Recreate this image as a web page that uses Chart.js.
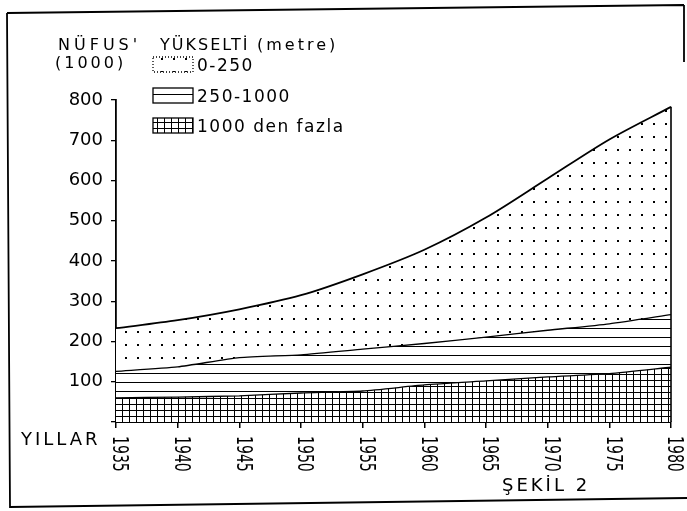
<!DOCTYPE html>
<html>
<head>
<meta charset="utf-8">
<script src="https://cdn.jsdelivr.net/npm/chart.js@4/dist/chart.umd.min.js"></script>
<style>
  html, body { margin: 0; padding: 0; background: #fff; }
  canvas { display: block; }
</style>
</head>
<body>
<canvas id="chart" width="687" height="511"></canvas>
<script>
  // years on the x axis
  const years = ["1935", "1940", "1945", "1950", "1955", "1960", "1965", "1970", "1975", "1980"];

  // population per altitude band, thousands (stacked: bottom to top)
  const over1000 = [60, 62, 65, 72, 77, 92, 102, 112, 120, 136];
  const from250to1000 = [66, 75, 95, 95, 104, 103, 109, 116, 124, 131];
  const from0to250 = [107, 116, 120, 148, 186, 233, 297, 377, 458, 516];

  // y axis ticks
  const yTickValues = [0, 100, 200, 300, 400, 500, 600, 700, 800];

  const legendLabels = ["0-250", "250-1000", "1000 den fazla"];

  const FONT = "DejaVu Sans";

  function makePattern(w, h, draw) {
    const c = document.createElement("canvas");
    c.width = w;
    c.height = h;
    const g = c.getContext("2d");
    g.fillStyle = "#fff";
    g.fillRect(0, 0, w, h);
    g.fillStyle = "#000";
    draw(g);
    return c.getContext("2d").createPattern(c, "repeat");
  }

  const dots = makePattern(12, 13, g => g.fillRect(5, 6, 2, 2));
  const hlines = makePattern(10, 9, g => g.fillRect(0, 4, 10, 1));
  const grid = makePattern(7, 6, g => {
    g.fillRect(3, 0, 1, 6);
    g.fillRect(0, 2, 7, 1);
  });

  function spacedText(ctx, text, x, y, font, spacing) {
    ctx.font = font;
    ctx.letterSpacing = spacing + "px";
    ctx.fillText(text, x, y);
    ctx.letterSpacing = "0px";
  }

  const decor = {
    id: "decor",
    beforeDraw(chart) {
      const ctx = chart.ctx;
      ctx.save();
      ctx.fillStyle = "#fff";
      ctx.fillRect(0, 0, chart.width, chart.height);
      ctx.restore();
    },
    afterDraw(chart) {
      const { ctx, scales: { x, y } } = chart;
      ctx.save();
      ctx.fillStyle = "#000";
      ctx.strokeStyle = "#000";

      // right edge of the stacked area
      const topPt = chart.getDatasetMeta(2).data[years.length - 1];
      ctx.lineWidth = 1.6;
      ctx.beginPath();
      ctx.moveTo(topPt.x, y.getPixelForValue(0));
      ctx.lineTo(topPt.x, topPt.y);
      ctx.stroke();

      // rotated year labels
      years.forEach((yr, i) => {
        const px = x.getPixelForValue(i);
        ctx.save();
        ctx.translate(px + 3, 436);
        ctx.rotate(Math.PI / 2);
        ctx.scale(0.64, 1);
        ctx.font = "22px " + FONT;
        ctx.textAlign = "left";
        ctx.textBaseline = "middle";
        ctx.fillText(yr, 0, 0);
        ctx.restore();
      });

      // titles
      ctx.textAlign = "left";
      ctx.textBaseline = "alphabetic";
      spacedText(ctx, "NÜFUS'", 58, 50, "16px " + FONT, 4);
      spacedText(ctx, "YÜKSELTİ", 160, 50, "16px " + FONT, 2);
      spacedText(ctx, "(metre)", 257, 50, "16px " + FONT, 3);
      spacedText(ctx, "(1000)", 55, 68, "16px " + FONT, 3);
      spacedText(ctx, "YILLAR", 21, 445, "18px " + FONT, 3);
      spacedText(ctx, "ŞEKİL 2", 502, 491, "18px " + FONT, 3);

      // legend
      const boxes = [
        { fill: dots, top: 57, dash: [1, 2] },
        { fill: hlines, top: 88, dash: [] },
        { fill: grid, top: 118, dash: [] }
      ];
      boxes.forEach((b, i) => {
        ctx.fillStyle = b.fill;
        ctx.fillRect(153, b.top, 40, 15);
        ctx.setLineDash(b.dash);
        ctx.lineWidth = 1.3;
        ctx.strokeRect(153, b.top, 40, 15);
        ctx.setLineDash([]);
        ctx.fillStyle = "#000";
        spacedText(ctx, legendLabels[i], 197, b.top + 14, "17px " + FONT, 1.5);
      });

      // frame
      ctx.lineWidth = 1.8;
      ctx.beginPath();
      ctx.moveTo(7, 13);
      ctx.lineTo(684, 5);
      ctx.moveTo(7, 13);
      ctx.lineTo(10, 507);
      ctx.lineTo(687, 498);
      ctx.moveTo(684, 5);
      ctx.lineTo(684, 62);
      ctx.stroke();

      ctx.restore();
    }
  };

  new Chart(document.getElementById("chart"), {
    type: "line",
    data: {
      labels: years,
      datasets: [
        {
          label: legendLabels[2],
          data: over1000,
          backgroundColor: grid,
          borderColor: "#000",
          borderWidth: 1.3,
          fill: "origin",
          tension: 0.2,
          pointRadius: 0
        },
        {
          label: legendLabels[1],
          data: from250to1000,
          backgroundColor: hlines,
          borderColor: "#000",
          borderWidth: 1.3,
          fill: "-1",
          tension: 0.2,
          pointRadius: 0
        },
        {
          label: legendLabels[0],
          data: from0to250,
          backgroundColor: dots,
          borderColor: "#000",
          borderWidth: 1.8,
          fill: "-1",
          tension: 0.3,
          pointRadius: 0
        }
      ]
    },
    options: {
      responsive: false,
      animation: false,
      devicePixelRatio: 1,
      layout: { padding: { left: 0, right: 16, top: 100, bottom: 83 } },
      plugins: {
        legend: { display: false },
        tooltip: { enabled: false }
      },
      scales: {
        x: {
          offset: false,
          grid: { drawOnChartArea: false, drawTicks: true, tickLength: 6, color: "#000", lineWidth: 1.5 },
          border: { display: true, color: "#000", width: 2 },
          ticks: { display: false },
          afterFit: s => { s.height = 6; }
        },
        y: {
          stacked: true,
          min: 0,
          max: 800,
          grid: { drawOnChartArea: false, drawTicks: true, tickLength: 5, color: "#000", lineWidth: 1.3 },
          border: { display: true, color: "#000", width: 1.8 },
          afterBuildTicks: s => { s.ticks = yTickValues.map(v => ({ value: v })); },
          afterFit: s => { s.width = 116; },
          ticks: {
            color: "#000",
            padding: 8,
            font: { family: FONT, size: 18 },
            callback: v => (v === 0 ? "" : v)
          }
        }
      }
    },
    plugins: [decor]
  });
</script>
</body>
</html>
